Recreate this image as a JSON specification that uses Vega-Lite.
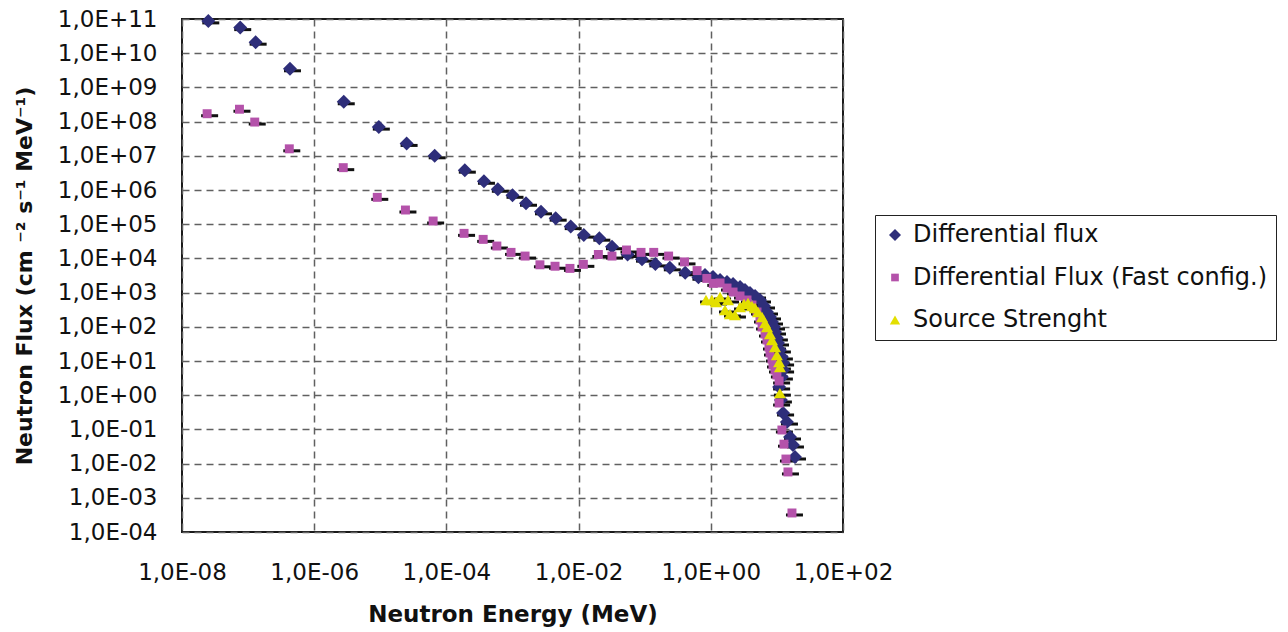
{
  "$schema": "https://vega.github.io/schema/vega-lite/v6.json",
  "width": 661,
  "height": 513,
  "autosize": {"type": "none"},
  "padding": {"left": 182, "top": 19, "right": 445, "bottom": 100},
  "background": "white",
  "config": {
    "view": {"stroke": "#1a1a1a", "strokeWidth": 2},
    "font": "DejaVu Sans"
  },
  "data": {
    "values": [
      {"s": "Differential flux", "e": 2.5e-8, "f": 8.8e10},
      {"s": "Differential flux", "e": 7.6e-8, "f": 5.6e10},
      {"s": "Differential flux", "e": 1.3e-7, "f": 2.1e10},
      {"s": "Differential flux", "e": 4.3e-7, "f": 3.5e9},
      {"s": "Differential flux", "e": 2.8e-6, "f": 3.8e8},
      {"s": "Differential flux", "e": 9.5e-6, "f": 6.9e7},
      {"s": "Differential flux", "e": 2.5e-5, "f": 2.3e7},
      {"s": "Differential flux", "e": 6.65e-5, "f": 1.0e7},
      {"s": "Differential flux", "e": 1.9e-4, "f": 3.8e6},
      {"s": "Differential flux", "e": 3.7e-4, "f": 1.8e6},
      {"s": "Differential flux", "e": 6.0e-4, "f": 1.05e6},
      {"s": "Differential flux", "e": 1.0e-3, "f": 7.0e5},
      {"s": "Differential flux", "e": 1.6e-3, "f": 4.1e5},
      {"s": "Differential flux", "e": 2.7e-3, "f": 2.3e5},
      {"s": "Differential flux", "e": 4.5e-3, "f": 1.5e5},
      {"s": "Differential flux", "e": 7.6e-3, "f": 8.5e4},
      {"s": "Differential flux", "e": 1.2e-2, "f": 4.8e4},
      {"s": "Differential flux", "e": 2.06e-2, "f": 3.9e4},
      {"s": "Differential flux", "e": 3.2e-2, "f": 2.2e4},
      {"s": "Differential flux", "e": 5.5e-2, "f": 1.3e4},
      {"s": "Differential flux", "e": 9.1e-2, "f": 9.5e3},
      {"s": "Differential flux", "e": 0.145, "f": 6.9e3},
      {"s": "Differential flux", "e": 0.24, "f": 5.3e3},
      {"s": "Differential flux", "e": 0.41, "f": 3.8e3},
      {"s": "Differential flux", "e": 0.65, "f": 2.8e3},
      {"s": "Differential flux", "e": 0.817, "f": 3270},
      {"s": "Differential flux", "e": 1.08, "f": 2860},
      {"s": "Differential flux", "e": 1.38, "f": 2330},
      {"s": "Differential flux", "e": 1.76, "f": 2040},
      {"s": "Differential flux", "e": 2.17, "f": 1780},
      {"s": "Differential flux", "e": 2.77, "f": 1460},
      {"s": "Differential flux", "e": 3.29, "f": 1190},
      {"s": "Differential flux", "e": 3.92, "f": 973},
      {"s": "Differential flux", "e": 4.67, "f": 796},
      {"s": "Differential flux", "e": 5.55, "f": 608},
      {"s": "Differential flux", "e": 6.38, "f": 406},
      {"s": "Differential flux", "e": 7.08, "f": 271},
      {"s": "Differential flux", "e": 7.87, "f": 194},
      {"s": "Differential flux", "e": 8.43, "f": 138},
      {"s": "Differential flux", "e": 9.04, "f": 98.6},
      {"s": "Differential flux", "e": 9.36, "f": 70.4},
      {"s": "Differential flux", "e": 10.0, "f": 47.1},
      {"s": "Differential flux", "e": 10.4, "f": 33.6},
      {"s": "Differential flux", "e": 11.1, "f": 21.0},
      {"s": "Differential flux", "e": 11.9, "f": 13.1},
      {"s": "Differential flux", "e": 12.4, "f": 8.75},
      {"s": "Differential flux", "e": 12.4, "f": 5.46},
      {"s": "Differential flux", "e": 11.9, "f": 3.40},
      {"s": "Differential flux", "e": 10.8, "f": 1.74},
      {"s": "Differential flux", "e": 11.5, "f": 0.724},
      {"s": "Differential flux", "e": 12.4, "f": 0.302},
      {"s": "Differential flux", "e": 14.2, "f": 0.164},
      {"s": "Differential flux", "e": 15.8, "f": 0.06},
      {"s": "Differential flux", "e": 17.5, "f": 0.035},
      {"s": "Differential flux", "e": 18.8, "f": 0.0156},
      {"s": "Differential Flux (Fast config.)", "e": 2.4e-8, "f": 1.7e8},
      {"s": "Differential Flux (Fast config.)", "e": 7.4e-8, "f": 2.3e8},
      {"s": "Differential Flux (Fast config.)", "e": 1.26e-7, "f": 9.7e7},
      {"s": "Differential Flux (Fast config.)", "e": 4.2e-7, "f": 1.6e7},
      {"s": "Differential Flux (Fast config.)", "e": 2.75e-6, "f": 4.5e6},
      {"s": "Differential Flux (Fast config.)", "e": 9.0e-6, "f": 6.1e5},
      {"s": "Differential Flux (Fast config.)", "e": 2.4e-5, "f": 2.6e5},
      {"s": "Differential Flux (Fast config.)", "e": 6.3e-5, "f": 1.24e5},
      {"s": "Differential Flux (Fast config.)", "e": 1.85e-4, "f": 5.4e4},
      {"s": "Differential Flux (Fast config.)", "e": 3.6e-4, "f": 3.6e4},
      {"s": "Differential Flux (Fast config.)", "e": 5.8e-4, "f": 2.3e4},
      {"s": "Differential Flux (Fast config.)", "e": 9.5e-4, "f": 1.5e4},
      {"s": "Differential Flux (Fast config.)", "e": 1.55e-3, "f": 1.17e4},
      {"s": "Differential Flux (Fast config.)", "e": 2.6e-3, "f": 6.5e3},
      {"s": "Differential Flux (Fast config.)", "e": 4.4e-3, "f": 5.9e3},
      {"s": "Differential Flux (Fast config.)", "e": 7.4e-3, "f": 5.1e3},
      {"s": "Differential Flux (Fast config.)", "e": 1.18e-2, "f": 6.7e3},
      {"s": "Differential Flux (Fast config.)", "e": 1.99e-2, "f": 1.3e4},
      {"s": "Differential Flux (Fast config.)", "e": 3.2e-2, "f": 1.17e4},
      {"s": "Differential Flux (Fast config.)", "e": 5.3e-2, "f": 1.76e4},
      {"s": "Differential Flux (Fast config.)", "e": 8.8e-2, "f": 1.5e4},
      {"s": "Differential Flux (Fast config.)", "e": 0.137, "f": 1.5e4},
      {"s": "Differential Flux (Fast config.)", "e": 0.23, "f": 1.17e4},
      {"s": "Differential Flux (Fast config.)", "e": 0.40, "f": 7.9e3},
      {"s": "Differential Flux (Fast config.)", "e": 0.62, "f": 4.4e3},
      {"s": "Differential Flux (Fast config.)", "e": 0.87, "f": 2.6e3},
      {"s": "Differential Flux (Fast config.)", "e": 1.09, "f": 1.86e3},
      {"s": "Differential Flux (Fast config.)", "e": 1.38, "f": 1910},
      {"s": "Differential Flux (Fast config.)", "e": 1.76, "f": 1360},
      {"s": "Differential Flux (Fast config.)", "e": 2.17, "f": 1040},
      {"s": "Differential Flux (Fast config.)", "e": 2.77, "f": 796},
      {"s": "Differential Flux (Fast config.)", "e": 3.53, "f": 608},
      {"s": "Differential Flux (Fast config.)", "e": 4.2, "f": 434},
      {"s": "Differential Flux (Fast config.)", "e": 5.0, "f": 271},
      {"s": "Differential Flux (Fast config.)", "e": 5.55, "f": 158},
      {"s": "Differential Flux (Fast config.)", "e": 5.96, "f": 98.6},
      {"s": "Differential Flux (Fast config.)", "e": 6.61, "f": 61.5},
      {"s": "Differential Flux (Fast config.)", "e": 7.08, "f": 41.1},
      {"s": "Differential Flux (Fast config.)", "e": 7.59, "f": 25.6},
      {"s": "Differential Flux (Fast config.)", "e": 7.87, "f": 17.1},
      {"s": "Differential Flux (Fast config.)", "e": 8.43, "f": 11.4},
      {"s": "Differential Flux (Fast config.)", "e": 8.73, "f": 7.64},
      {"s": "Differential Flux (Fast config.)", "e": 9.36, "f": 5.46},
      {"s": "Differential Flux (Fast config.)", "e": 10.0, "f": 3.90},
      {"s": "Differential Flux (Fast config.)", "e": 10.8, "f": 2.60},
      {"s": "Differential Flux (Fast config.)", "e": 10.8, "f": 0.59},
      {"s": "Differential Flux (Fast config.)", "e": 11.9, "f": 0.096},
      {"s": "Differential Flux (Fast config.)", "e": 12.8, "f": 0.037},
      {"s": "Differential Flux (Fast config.)", "e": 13.7, "f": 0.0136},
      {"s": "Differential Flux (Fast config.)", "e": 14.7, "f": 0.0057},
      {"s": "Differential Flux (Fast config.)", "e": 16.9, "f": 0.00036},
      {"s": "Source Strenght", "e": 0.846, "f": 608},
      {"s": "Source Strenght", "e": 1.04, "f": 608},
      {"s": "Source Strenght", "e": 1.2, "f": 531},
      {"s": "Source Strenght", "e": 1.38, "f": 744},
      {"s": "Source Strenght", "e": 1.64, "f": 310},
      {"s": "Source Strenght", "e": 1.82, "f": 608},
      {"s": "Source Strenght", "e": 1.95, "f": 237},
      {"s": "Source Strenght", "e": 2.32, "f": 221},
      {"s": "Source Strenght", "e": 2.77, "f": 380},
      {"s": "Source Strenght", "e": 3.18, "f": 464},
      {"s": "Source Strenght", "e": 3.66, "f": 497},
      {"s": "Source Strenght", "e": 4.2, "f": 406},
      {"s": "Source Strenght", "e": 4.67, "f": 355},
      {"s": "Source Strenght", "e": 5.18, "f": 271},
      {"s": "Source Strenght", "e": 5.96, "f": 194},
      {"s": "Source Strenght", "e": 6.61, "f": 129},
      {"s": "Source Strenght", "e": 7.08, "f": 98.6},
      {"s": "Source Strenght", "e": 7.87, "f": 61.5},
      {"s": "Source Strenght", "e": 8.43, "f": 41.1},
      {"s": "Source Strenght", "e": 9.36, "f": 25.6},
      {"s": "Source Strenght", "e": 10.0, "f": 15.0},
      {"s": "Source Strenght", "e": 10.8, "f": 9.35},
      {"s": "Source Strenght", "e": 11.1, "f": 6.68},
      {"s": "Source Strenght", "e": 11.1, "f": 1.15}
    ]
  },
  "encoding": {
    "x": {
      "field": "e",
      "type": "quantitative",
      "scale": {"type": "log", "domain": [1e-8, 100], "nice": false},
      "axis": {
        "values": [1e-8, 1e-6, 1e-4, 1e-2, 1, 100],
        "labelExpr": "'1,0E' + (round(log(datum.value)/LN10) < 0 ? '-' : '+') + (abs(round(log(datum.value)/LN10)) < 10 ? '0' : '') + abs(round(log(datum.value)/LN10))",
        "labelFont": "DejaVu Sans",
        "labelFontSize": 23,
        "labelColor": "#111111",
        "labelPadding": 29,
        "labelFlush": false,
        "labelOverlap": false,
        "ticks": false,
        "domain": false,
        "grid": true,
        "gridDash": [7, 5],
        "gridColor": "#606060",
        "gridWidth": 1.5,
        "title": "Neutron Energy (MeV)",
        "titleFont": "DejaVu Sans",
        "titleFontWeight": "bold",
        "titleFontSize": 23,
        "titleColor": "#111111",
        "titleBaseline": "alphabetic",
        "titleY": 89
      }
    },
    "y": {
      "field": "f",
      "type": "quantitative",
      "scale": {"type": "log", "domain": [1e-4, 1e11], "nice": false},
      "axis": {
        "values": [1e-4, 1e-3, 1e-2, 1e-1, 1, 10, 100, 1000, 1e4, 1e5, 1e6, 1e7, 1e8, 1e9, 1e10, 1e11],
        "labelExpr": "'1,0E' + (round(log(datum.value)/LN10) < 0 ? '-' : '+') + (abs(round(log(datum.value)/LN10)) < 10 ? '0' : '') + abs(round(log(datum.value)/LN10))",
        "labelFont": "DejaVu Sans",
        "labelFontSize": 23,
        "labelColor": "#111111",
        "labelPadding": 25,
        "labelFlush": false,
        "labelOverlap": false,
        "ticks": false,
        "domain": false,
        "grid": true,
        "gridDash": [7, 5],
        "gridColor": "#606060",
        "gridWidth": 1.5,
        "title": "Neutron Flux (cm ⁻² s⁻¹ MeV⁻¹)",
        "titleFont": "DejaVu Sans",
        "titleFontWeight": "bold",
        "titleFontSize": 22,
        "titleColor": "#111111",
        "titleBaseline": "alphabetic",
        "titleX": -151
      }
    }
  },
  "layer": [
    {
      "mark": {"type": "tick", "orient": "horizontal", "color": "#111111", "size": 17, "thickness": 3, "xOffset": 2.5, "yOffset": 2, "opacity": 1}
    },
    {
      "mark": {"type": "point", "filled": true, "size": 196, "opacity": 1},
      "encoding": {
        "color": {
          "field": "s",
          "type": "nominal",
          "scale": {"domain": ["Differential flux", "Differential Flux (Fast config.)", "Source Strenght"], "range": ["#2e2e7a", "#b452aa", "#e3df00"]},
          "legend": {
            "orient": "none",
            "legendX": 693,
            "legendY": 196,
            "title": null,
            "strokeColor": "#222222",
            "fillColor": "white",
            "padding": 8,
            "labelFont": "DejaVu Sans",
            "labelFontSize": 24,
            "labelColor": "#111111",
            "labelLimit": 600,
            "rowPadding": 18.5,
            "symbolSize": 144,
            "labelOffset": 6,
            "symbolStrokeWidth": 0
          }
        },
        "shape": {
          "field": "s",
          "type": "nominal",
          "scale": {"domain": ["Differential flux", "Differential Flux (Fast config.)", "Source Strenght"], "range": ["M-1,0L0,-1L1,0L0,1Z", "M-0.64,-0.64H0.64V0.64H-0.64Z", "M0,-0.745L0.86,0.745L-0.86,0.745Z"]}
        }
      }
    }
  ]
}
